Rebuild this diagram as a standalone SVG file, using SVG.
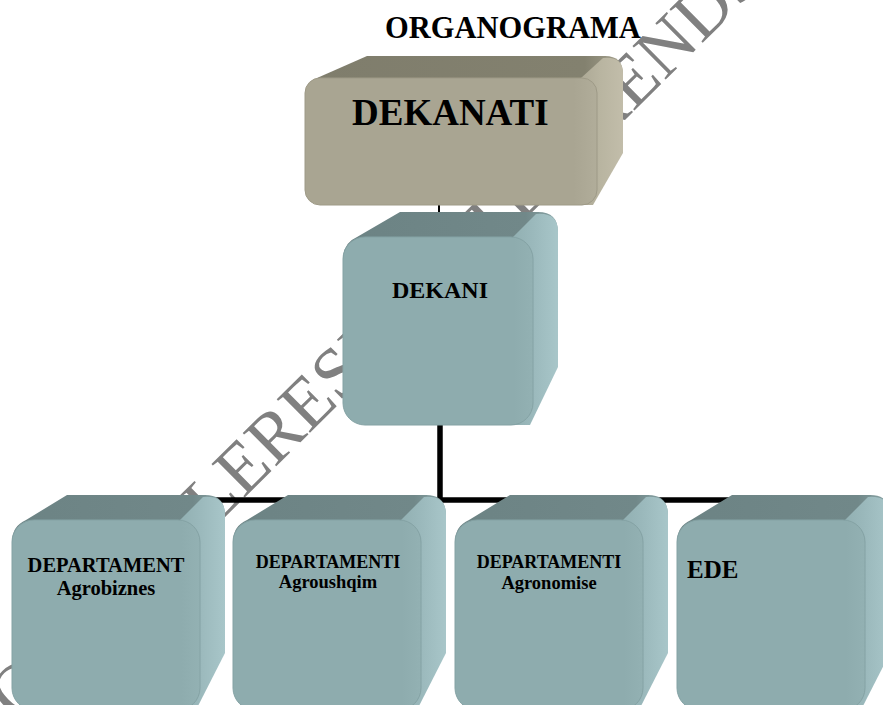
<svg xmlns="http://www.w3.org/2000/svg" width="883" height="705" viewBox="0 0 883 705">
<style>
  .t { font-family: "Liberation Serif", "Times New Roman", serif; font-weight: bold; fill: #000; }
  .wm { font-family: "Liberation Serif", "Times New Roman", serif; font-size: 72px; fill: #808080; }
  .tTop { fill: url(#tealTop); }
  .tSide { fill: url(#tealSide); }
  .tFront { fill: url(#tealFront); stroke: #84a2a4; stroke-width: 1; }
  .kTop { fill: url(#khakiTop); }
  .kSide { fill: url(#khakiSide); }
  .kFront { fill: url(#khakiFront); stroke: #9e9a87; stroke-width: 1; }
  .thin { stroke: #000; stroke-width: 2; fill: none; }
  .thick { stroke: #000; stroke-width: 5.5; fill: none; }
</style>
<defs>
  <linearGradient id="tealTop" x1="0" y1="0" x2="1" y2="0">
    <stop offset="0" stop-color="#6c8384"/>
    <stop offset="0.85" stop-color="#718889"/>
    <stop offset="1" stop-color="#8aa6a8"/>
  </linearGradient>
  <linearGradient id="tealSide" x1="0" y1="0" x2="1" y2="0">
    <stop offset="0" stop-color="#8eacae"/>
    <stop offset="0.5" stop-color="#9ab8bb"/>
    <stop offset="1" stop-color="#a8c6c9"/>
  </linearGradient>
  <linearGradient id="tealFront" x1="0" y1="0" x2="1" y2="0">
    <stop offset="0" stop-color="#8eacae"/>
    <stop offset="0.9" stop-color="#8eacae"/>
    <stop offset="1" stop-color="#93b1b3"/>
  </linearGradient>
  <linearGradient id="khakiTop" x1="0" y1="0" x2="1" y2="0">
    <stop offset="0" stop-color="#7f7d6c"/>
    <stop offset="0.88" stop-color="#83816f"/>
    <stop offset="1" stop-color="#a6a28f"/>
  </linearGradient>
  <linearGradient id="khakiSide" x1="0" y1="0" x2="1" y2="0">
    <stop offset="0" stop-color="#a9a592"/>
    <stop offset="0.5" stop-color="#b8b4a0"/>
    <stop offset="1" stop-color="#c2bdaa"/>
  </linearGradient>
  <linearGradient id="khakiFront" x1="0" y1="0" x2="1" y2="0">
    <stop offset="0" stop-color="#a9a592"/>
    <stop offset="0.92" stop-color="#a9a592"/>
    <stop offset="1" stop-color="#b1ad9a"/>
  </linearGradient>
  <path id="cubeTop" d="M 0,22 Q 0,6 14,0 L 55,-25 L 193,-25 Q 213,-25 213,-5 L 213,22 L 188,22 Z"/>
  <path id="cubeSide" d="M 168,0 L 191,-23 Q 213,-25 213,-5 L 213,133 L 185,188 L 160,188 Z"/>
</defs>

<g id="watermark">
  <text class="wm" x="-82" y="822" transform="rotate(-44.8 -82 822)">RAPORTI I VLERESIMIT TE BRENDSHEM</text>
</g>

<text id="title" class="t" x="385" y="38" font-size="30.5">ORGANOGRAMA</text>

<g id="connectors">
  <line class="thin" x1="439" y1="205" x2="439" y2="237"/>
  <polyline class="thick" points="440,425 440,500"/>
  <line class="thick" x1="110" y1="500" x2="775" y2="500"/>
</g>

<g id="dekanati" transform="translate(305,78)">
  <path class="kTop" d="M 0,18 Q 0,6 12,0 L 62,-22 L 300,-22 Q 318,-22 318,-4 L 318,20 L 292,20 Z"/>
  <path class="kSide" d="M 276,0 L 298,-20 Q 318,-22 318,-4 L 318,75 L 288,127 L 270,127 Z"/>
  <rect class="kFront" x="0" y="0" width="292" height="127" rx="15"/>
  <text class="t" x="47" y="47" font-size="37">DEKANATI</text>
</g>

<g id="dekani" transform="translate(343,237)">
  <path class="tTop" d="M 0,22 Q 0,6 14,0 L 57,-25 L 195,-25 Q 215,-25 215,-5 L 215,22 L 190,22 Z"/>
  <path class="tSide" d="M 170,0 L 193,-23 Q 215,-25 215,-5 L 215,130 L 187,188 L 162,188 Z"/>
  <rect class="tFront" x="0" y="0" width="190" height="188" rx="22"/>
  <text class="t" x="49" y="61" font-size="24">DEKANI</text>
</g>

<g id="dep-agrobiznes" transform="translate(12,520)">
  <use href="#cubeTop" class="tTop"/>
  <use href="#cubeSide" class="tSide"/>
  <rect class="tFront" x="0" y="0" width="188" height="190" rx="22"/>
  <text class="t" x="94" y="52" font-size="20.5" text-anchor="middle">DEPARTAMENT</text>
  <text class="t" x="94" y="75" font-size="20.5" text-anchor="middle">Agrobiznes</text>
</g>

<g id="dep-agroushqim" transform="translate(233,520)">
  <use href="#cubeTop" class="tTop"/>
  <use href="#cubeSide" class="tSide"/>
  <rect class="tFront" x="0" y="0" width="188" height="190" rx="22"/>
  <text class="t" x="95" y="48" font-size="18" text-anchor="middle">DEPARTAMENTI</text>
  <text class="t" x="95" y="68" font-size="18.5" text-anchor="middle">Agroushqim</text>
</g>

<g id="dep-agronomise" transform="translate(455,520)">
  <use href="#cubeTop" class="tTop"/>
  <use href="#cubeSide" class="tSide"/>
  <rect class="tFront" x="0" y="0" width="188" height="190" rx="22"/>
  <text class="t" x="94" y="48" font-size="18" text-anchor="middle">DEPARTAMENTI</text>
  <text class="t" x="94" y="69" font-size="18.5" text-anchor="middle">Agronomise</text>
</g>

<g id="ede" transform="translate(677,520)">
  <use href="#cubeTop" class="tTop"/>
  <use href="#cubeSide" class="tSide"/>
  <rect class="tFront" x="0" y="0" width="188" height="190" rx="22"/>
  <text class="t" x="10" y="58" font-size="25">EDE</text>
</g>
</svg>
